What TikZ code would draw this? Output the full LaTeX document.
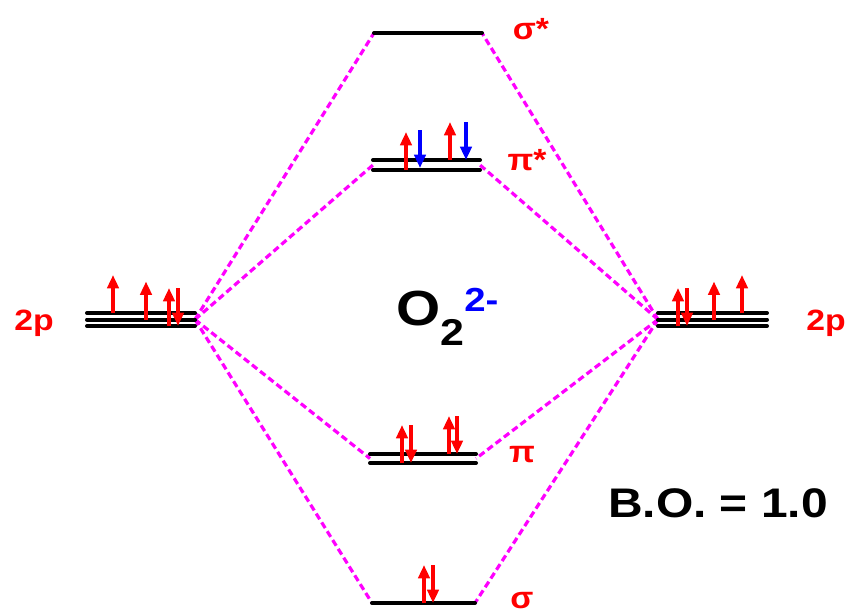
\documentclass[tikz,border=0pt]{standalone}
\usepackage{fontspec}
\setmainfont{Liberation Sans}
\usetikzlibrary{arrows.meta}
\definecolor{mag}{RGB}{255,0,255}
\definecolor{ered}{RGB}{255,0,0}
\definecolor{eblue}{RGB}{0,0,255}
\tikzset{
  level/.style={line width=3pt, black, line cap=round},
  corr/.style={line width=2.4pt, mag, dash pattern=on 5pt off 2.8pt},
  eup/.style={line width=2.8pt, ered, -{Triangle[length=10pt,width=8.5pt]}},
  edn/.style={line width=2.8pt, ered, -{Triangle[length=10pt,width=8.5pt]}},
  ednb/.style={line width=2.8pt, eblue, -{Triangle[length=10pt,width=8.5pt]}},
  lab/.style={text=ered, font=\bfseries\fontsize{22}{22}\selectfont, inner sep=0pt},
  glab/.style={text=ered, font=\bfseries\fontsize{23}{23}\selectfont, inner sep=0pt}
}
\newcommand{\elup}[3][eup]{\draw[#1] (#2,#3) -- (#2,#3-38);}
\newcommand{\eldown}[3][edn]{\draw[#1] (#2,#3-38) -- (#2,#3);}
\begin{document}
\begin{tikzpicture}[x=0.75pt,y=-0.75pt]
\useasboundingbox (0,0) rectangle (846,614);
% coordinates
\coordinate (L) at (195,319.5);
\coordinate (R) at (658,319.5);
\coordinate (ssL) at (374,33);  \coordinate (ssR) at (482,33);
\coordinate (psL) at (373,165); \coordinate (psR) at (480,165);
\coordinate (pL) at (370,458.5); \coordinate (pR) at (476,458.5);
\coordinate (sL) at (372,603);  \coordinate (sR) at (475,603);
% correlation lines
\draw[corr] (L) -- (ssL); \draw[corr] (L) -- (psL);
\draw[corr] (L) -- (pL);  \draw[corr] (L) -- (sL);
\draw[corr] (R) -- (ssR); \draw[corr] (R) -- (psR);
\draw[corr] (R) -- (pR);  \draw[corr] (R) -- (sR);
% levels
\foreach \y in {313,319.5,326} {
  \draw[level] (87,\y) -- (195,\y);
  \draw[level] (658,\y) -- (767,\y);
}
\draw[level] (ssL) -- (ssR);
\draw[level] (373,160) -- (480,160);
\draw[level] (373,170) -- (480,170);
\draw[level] (370,454) -- (476,454);
\draw[level] (370,463) -- (476,463);
\draw[level] (sL) -- (sR);
% electrons left 2p
\elup{113}{313}
\elup{146}{319.5}
\elup{169}{326}
\eldown{178}{326}
% right 2p
\elup{678}{326}
\eldown{687}{326}
\elup{714}{319.5}
\elup{742}{313}
% pi*
\elup{406}{170}
\eldown[ednb]{420}{168}
\elup{450}{160}
\eldown[ednb]{466}{160}
% pi
\elup{402}{463}
\eldown{411}{463}
\elup{449}{454}
\eldown{457}{454}
% sigma
\elup{424}{603}
\eldown{433}{603}
% labels
\node[lab] (l2p) at (34,323) {\scalebox{1.15}[1]{2p}};
\node[lab] (r2p) at (826,323) {\scalebox{1.15}[1]{2p}};
\node[glab] (lss) at (531,29) {\scalebox{1.1}[1]{σ*}};
\node[glab] (lps) at (527,160) {\scalebox{1.1}[1]{π*}};
\node[glab] (lp) at (522,455) {\scalebox{1.1}[1]{π}};
\node[glab] (ls) at (522,601) {\scalebox{1.1}[1]{σ}};
\node[anchor=base west, inner sep=0pt, font=\bfseries] (mol) at (396,325)
  {\scalebox{1.15}[1]{\fontsize{37}{37}\selectfont O\raisebox{-15pt}{\fontsize{28}{28}\selectfont 2}\raisebox{10pt}{\fontsize{25}{25}\selectfont\color{eblue}2-}}};
\node[inner sep=0pt, font=\bfseries\fontsize{31}{31}\selectfont] (bo) at (718,503) {\scalebox{1.16}[1]{B.O. = 1.0}};
\end{tikzpicture}
\end{document}
